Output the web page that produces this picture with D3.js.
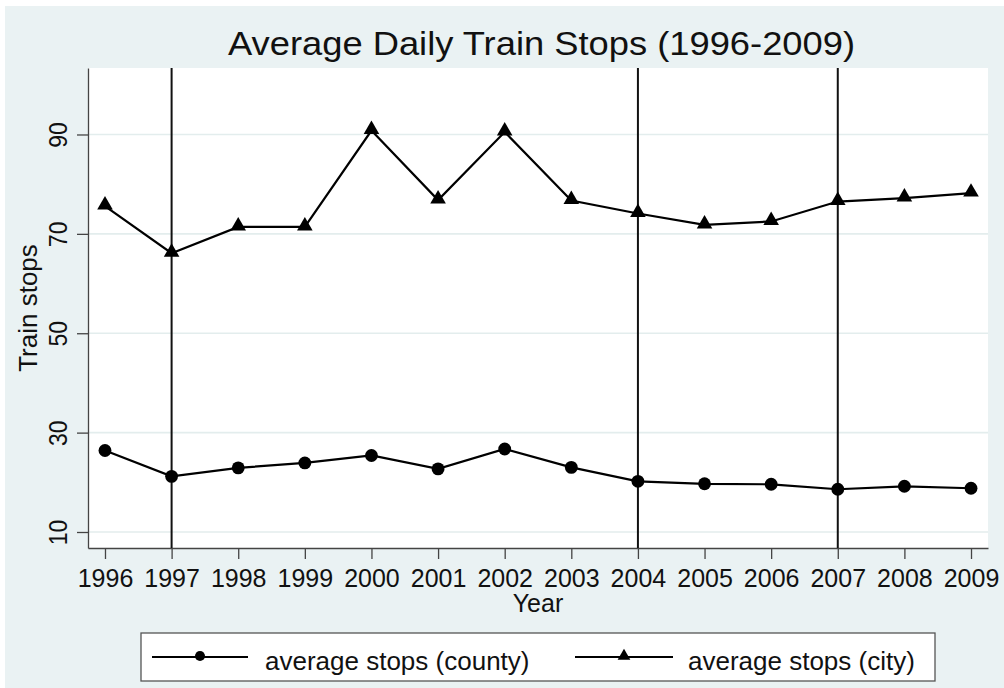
<!DOCTYPE html>
<html>
<head>
<meta charset="utf-8">
<script src="https://cdn.jsdelivr.net/npm/d3@7"></script>
<style>
  body { margin: 0; background: #fff; }
  svg { display: block; font-family: "Liberation Sans", Arial, sans-serif; }
</style>
</head>
<body>
<svg width="1004" height="688"></svg>
<script>
// data
var years = [1996, 1997, 1998, 1999, 2000, 2001, 2002, 2003, 2004, 2005, 2006, 2007, 2008, 2009];
var countyStops = [26.4, 21.2, 22.9, 23.9, 25.4, 22.7, 26.7, 23.0, 20.2, 19.7, 19.6, 18.6, 19.2, 18.8];
var cityStops = [75.6, 66.1, 71.4, 71.4, 90.8, 76.8, 90.5, 76.7, 74.1, 71.8, 72.5, 76.5, 77.2, 78.2];
var eventYears = [1997, 2004, 2007];
var yTicks = [10, 30, 50, 70, 90];
var seriesNames = ["average stops (county)", "average stops (city)"];

var svg = d3.select("svg");
var plotL = 88, plotR = 988, plotT = 68, plotB = 548;

var x = d3.scaleLinear().domain([1995.745, 2009.255]).range([plotL, plotR]);
var y = d3.scaleLinear().domain([6.78, 103.38]).range([plotB, plotT]);

// graph region + plot region
svg.append("rect").attr("x", 5).attr("y", 6).attr("width", 1004).attr("height", 688)
    .attr("fill", "#eaf2f3");
svg.append("rect").attr("x", plotL).attr("y", plotT)
    .attr("width", plotR - plotL).attr("height", plotB - plotT)
    .attr("fill", "#fff");

// grid
svg.append("g").selectAll("line")
    .data(yTicks)
    .enter().append("line")
    .attr("x1", plotL).attr("x2", plotR)
    .attr("y1", d => y(d)).attr("y2", d => y(d))
    .attr("stroke", "#e3eded")
    .attr("stroke-width", 1.6);

// axes
var xAxis = svg.append("g")
    .attr("transform", "translate(0," + plotB + ")")
    .call(d3.axisBottom(x).tickValues(years).tickFormat(d3.format("d")).tickSize(11).tickSizeOuter(0));
xAxis.select(".domain").attr("stroke", "#444").attr("stroke-width", 1.3);
xAxis.selectAll(".tick line").attr("stroke", "#444").attr("stroke-width", 1.3);
xAxis.selectAll(".tick text")
    .attr("y", 0).attr("dy", 0)
    .attr("transform", "translate(0,39)")
    .attr("font-size", 25)
    .attr("font-family", "Liberation Sans, Arial, sans-serif")
    .attr("fill", "#111");

var yAxis = svg.append("g")
    .attr("transform", "translate(" + plotL + ",0)")
    .call(d3.axisLeft(y).tickValues(yTicks).tickSize(11).tickSizeOuter(0));
yAxis.select(".domain").attr("stroke", "#444").attr("stroke-width", 1.3);
yAxis.selectAll(".tick line").attr("stroke", "#444").attr("stroke-width", 1.3);
yAxis.selectAll(".tick text")
    .attr("x", 0).attr("dy", 0)
    .attr("text-anchor", "middle")
    .attr("transform", "translate(-21.3,0) rotate(-90) scale(1,1.15)")
    .attr("font-size", 23)
    .attr("font-family", "Liberation Sans, Arial, sans-serif")
    .attr("fill", "#111");

// event lines
svg.append("g").selectAll("line")
    .data(eventYears)
    .enter().append("line")
    .attr("x1", d => x(d)).attr("x2", d => x(d))
    .attr("y1", plotT).attr("y2", plotB)
    .attr("stroke", "#111")
    .attr("stroke-width", 2);

// series
var line = d3.line()
    .x((d, i) => x(years[i]))
    .y(d => y(d));

svg.append("path").datum(countyStops)
    .attr("d", line).attr("fill", "none")
    .attr("stroke", "#000").attr("stroke-width", 2.2);
svg.append("path").datum(cityStops)
    .attr("d", line).attr("fill", "none")
    .attr("stroke", "#000").attr("stroke-width", 2.2);

var circle = d3.symbol().type(d3.symbolCircle).size(130);
var triangle = d3.symbol().type(d3.symbolTriangle).size(105);

svg.append("g").selectAll("path")
    .data(countyStops)
    .enter().append("path")
    .attr("d", circle)
    .attr("transform", (d, i) => "translate(" + x(years[i]) + "," + y(d) + ")")
    .attr("fill", "#000");

svg.append("g").selectAll("path")
    .data(cityStops)
    .enter().append("path")
    .attr("d", triangle)
    .attr("transform", (d, i) => "translate(" + x(years[i]) + "," + (y(d) - 1) + ")")
    .attr("fill", "#000");

// titles
svg.append("text")
    .attr("x", 541.5).attr("y", 55)
    .attr("text-anchor", "middle")
    .attr("font-size", 33)
    .attr("textLength", 627).attr("lengthAdjust", "spacingAndGlyphs")
    .attr("fill", "#111")
    .text("Average Daily Train Stops (1996-2009)");

svg.append("text")
    .attr("x", (plotL + plotR) / 2).attr("y", 612)
    .attr("text-anchor", "middle")
    .attr("font-size", 25)
    .attr("fill", "#111")
    .text("Year");

svg.append("text")
    .attr("transform", "translate(37,308) rotate(-90)")
    .attr("text-anchor", "middle")
    .attr("font-size", 26)
    .attr("fill", "#111")
    .text("Train stops");

// legend
var lg = svg.append("g");
lg.append("rect")
    .attr("x", 141).attr("y", 633).attr("width", 794).attr("height", 48)
    .attr("fill", "#fff").attr("stroke", "#555").attr("stroke-width", 1.3);

var legendItems = [
    {name: seriesNames[0], x0: 152, x1: 248, sym: d3.symbol().type(d3.symbolCircle).size(80), text: 265},
    {name: seriesNames[1], x0: 575, x1: 673, sym: d3.symbol().type(d3.symbolTriangle).size(70), text: 688}
];
legendItems.forEach(function(it) {
    var ly = 657;
    lg.append("line").attr("x1", it.x0).attr("x2", it.x1)
        .attr("y1", ly).attr("y2", ly)
        .attr("stroke", "#000").attr("stroke-width", 2);
    lg.append("path").attr("d", it.sym)
        .attr("transform", "translate(" + (it.x0 + it.x1) / 2 + "," + (ly - 1) + ")")
        .attr("fill", "#000");
    lg.append("text").attr("x", it.text).attr("y", 670)
        .attr("font-size", 26).attr("fill", "#111")
        .text(it.name);
});
</script>
</body>
</html>
